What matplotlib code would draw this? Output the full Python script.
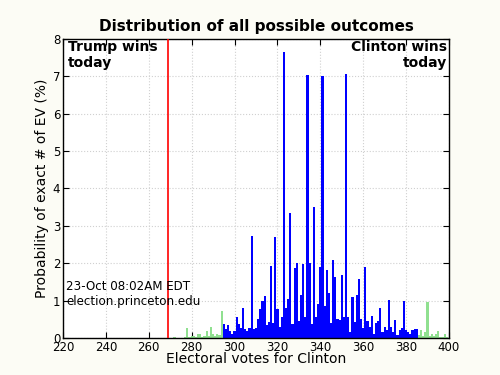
import matplotlib
matplotlib.use("Agg")
import matplotlib.pyplot as plt
import numpy as np

ev_start = 220
probs = [
    # 220-269
    0.01, 0.01, 0.01, 0.01, 0.01, 0.01, 0.01, 0.01, 0.01, 0.01,
    0.01, 0.01, 0.01, 0.01, 0.01, 0.01, 0.01, 0.01, 0.01, 0.01,
    0.01, 0.01, 0.01, 0.01, 0.01, 0.01, 0.01, 0.01, 0.01, 0.01,
    0.01, 0.01, 0.01, 0.01, 0.01, 0.01, 0.01, 0.01, 0.01, 0.01,
    0.01, 0.01, 0.01, 0.01, 0.01, 0.01, 0.01, 0.01, 0.01, 0.01,
    # 270-279
    0.01, 0.01, 0.02, 0.01, 0.01, 0.01, 0.01, 0.03, 0.26, 0.03,
    # 280-289
    0.04, 0.05, 0.02, 0.10, 0.10, 0.03, 0.05, 0.20, 0.05, 0.30,
    # 290-299
    0.12, 0.05, 0.12, 0.08, 0.72, 0.37, 0.25, 0.35, 0.20, 0.12,
    # 300-309
    0.20, 0.57, 0.37, 0.28, 0.80, 0.25, 0.20, 0.28, 2.72, 0.25,
    # 310-319
    0.28, 0.50, 0.77, 1.00, 1.13, 0.35, 0.44, 1.93, 0.40, 2.70,
    # 320-329
    0.77, 0.30, 0.57, 7.65, 0.81, 1.05, 3.35, 0.37, 1.88, 2.00,
    # 330-339
    0.45, 1.15, 1.97, 0.57, 7.03, 2.00, 0.37, 3.50, 0.55, 0.90,
    # 340-349
    1.89, 7.00, 0.86, 1.82, 1.20, 0.40, 2.08, 1.62, 0.52, 0.48,
    # 350-359
    1.68, 0.57, 7.06, 0.55, 0.17, 1.10, 0.44, 1.15, 1.58, 0.52,
    # 360-369
    0.26, 1.89, 0.46, 0.30, 0.59, 0.10, 0.40, 0.45, 0.80, 0.17,
    # 370-379
    0.30, 0.21, 1.02, 0.30, 0.17, 0.47, 0.08, 0.22, 0.28, 1.00,
    # 380-389
    0.21, 0.15, 0.10, 0.22, 0.24, 0.24, 0.08, 0.22, 0.05, 0.15,
    # 390-400
    0.95, 0.05, 0.12, 0.06, 0.12, 0.20, 0.03, 0.02, 0.10, 0.03, 0.00,
]
blue_range = (295, 385)
tie_line = 269
x_ticks = list(range(220, 401, 20))
y_ticks = list(range(0, 9))

ev = np.arange(ev_start, ev_start + len(probs))
vals = np.array(probs)
colors = ["#0000ff" if blue_range[0] <= e <= blue_range[1] else "#90e090" for e in ev]

fig = plt.figure(figsize=(5, 3.75), dpi=100, facecolor="#fcfcf5")
ax = fig.add_axes([0.126, 0.0987, 0.772, 0.7973])
ax.set_facecolor("white")
ax.bar(ev, vals, width=1.0, color=colors, linewidth=0, align="center", zorder=2)
ax.axvline(tie_line, color="red", linewidth=1.2, zorder=3)

ax.set_xlim(220, 400)
ax.set_ylim(0, 8)
ax.set_xticks(x_ticks)
ax.set_yticks(y_ticks)
ax.tick_params(direction="in", top=True, right=True, labelsize=8.5, length=4, pad=2)
ax.grid(True, linestyle=":", color="#d0d0d0", linewidth=0.8, zorder=0)
ax.set_axisbelow(True)
for s in ax.spines.values():
    s.set_linewidth(1.0)

ax.set_title("Distribution of all possible outcomes", fontsize=11, fontweight="bold", pad=6)
ax.set_xlabel("Electoral votes for Clinton", fontsize=10, labelpad=-1)
ax.set_ylabel("Probability of exact # of EV (%)", fontsize=10, labelpad=3)

ax.text(0.012, 0.995, "Trump wins\ntoday", transform=ax.transAxes, ha="left", va="top",
        fontsize=10, fontweight="bold", linespacing=1.1)
ax.text(0.995, 0.995, "Clinton wins\ntoday", transform=ax.transAxes, ha="right", va="top",
        fontsize=10, fontweight="bold", linespacing=1.1)
ax.text(0.008, 0.10, "23-Oct 08:02AM EDT\nelection.princeton.edu", transform=ax.transAxes,
        ha="left", va="bottom", fontsize=8.6, linespacing=1.2)

fig.savefig("out.png", dpi=100, facecolor=fig.get_facecolor())
